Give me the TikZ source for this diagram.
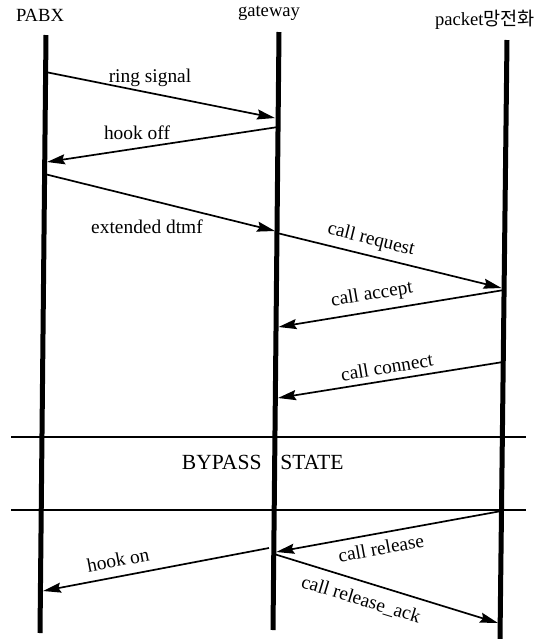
\documentclass[tikz,border=0pt]{standalone}
\usepackage{fontspec}
\setmainfont{Liberation Serif}
\newfontfamily\krfont{Noto Sans CJK KR}
\usetikzlibrary{arrows.meta}
\begin{document}
\begin{tikzpicture}[x=0.5pt,y=-0.5pt,
  lifeline/.style={line width=2.5pt},
  msg/.style={line width=0.85pt,-{Stealth[length=9pt,width=5pt,inset=1.2pt]}},
  divider/.style={line width=0.6pt},
  lbl/.style={font=\fontsize{9.7}{11}\selectfont,inner sep=0pt},
  head/.style={font=\fontsize{9.3}{11}\selectfont,inner sep=0pt},
  statelbl/.style={font=\fontsize{10.8}{12}\selectfont,inner sep=0pt}]
\useasboundingbox (0,0) rectangle (551,639);

% participants
\node[head] (pabx) at (40,15) {PABX};
\node[head] (gw) at (269,13) {gateway};
\node[head] (pkt) at (485,20) {packet{\krfont 망전화}};

% lifelines
\coordinate (pabxT) at (46,35);  \coordinate (pabxB) at (40,633);
\coordinate (gwT)   at (279,32); \coordinate (gwB)   at (273,630);
\coordinate (pktT)  at (507,40); \coordinate (pktB)  at (500,639);
\draw[lifeline] (pabxT) -- (pabxB);
\draw[lifeline] (gwT) -- (gwB);
\draw[lifeline] (pktT) -- (pktB);

% state dividers
\coordinate (d1L) at (11,437); \coordinate (d1R) at (526,437);
\coordinate (d2L) at (11,510); \coordinate (d2R) at (526,510);
\draw[divider] (d1L) -- (d1R);
\draw[divider] (d2L) -- (d2R);
\node[statelbl,anchor=east] (bypass) at (262,462) {BYPASS};
\node[statelbl,anchor=west] (state) at (280,462) {STATE};

% message end points
\coordinate (ringS) at (45.6,72);   \coordinate (ringE) at (275,118);
\coordinate (offS)  at (278,127);   \coordinate (offE)  at (47,162);
\coordinate (dtmfS) at (44.6,174);  \coordinate (dtmfE) at (275,231);
\coordinate (reqS)  at (277,233);   \coordinate (reqE)  at (501.5,288);
\coordinate (accS)  at (504,290);   \coordinate (accE)  at (278.5,327);
\coordinate (conS)  at (503,362);   \coordinate (conE)  at (278,398);
\coordinate (relS)  at (501.5,511); \coordinate (relE)  at (276.3,552);
\coordinate (onS)   at (269,548);   \coordinate (onE)   at (43,591);
\coordinate (ackS)  at (274,554);   \coordinate (ackE)  at (498,623);

% messages
\draw[msg] (ringS) -- (ringE);
\draw[msg] (offS) -- (offE);
\draw[msg] (dtmfS) -- (dtmfE);
\draw[msg] (reqS) -- (reqE);
\draw[msg] (accS) -- (accE);
\draw[msg] (conS) -- (conE);
\draw[msg] (relS) -- (relE);
\draw[msg] (onS) -- (onE);
\draw[msg] (ackS) -- (ackE);

% message labels
\node[lbl] (lring) at (150,78) {ring signal};
\node[lbl] (loff)  at (137,133) {hook off};
\node[lbl] (ldtmf) at (147,227) {extended dtmf};
\node[lbl,rotate=-14] (lreq) at (371,240) {call request};
\node[lbl,rotate=9.5] (lacc) at (372,295) {call accept};
\node[lbl,rotate=9.5] (lcon) at (387,367) {call connect};
\node[lbl,rotate=10.4] (lrel) at (381,548) {call release};
\node[lbl,rotate=10.7] (lon) at (118,560) {hook on};
\node[lbl,rotate=-17] (lack) at (361,600) {call release\_ack};
\end{tikzpicture}
\end{document}
